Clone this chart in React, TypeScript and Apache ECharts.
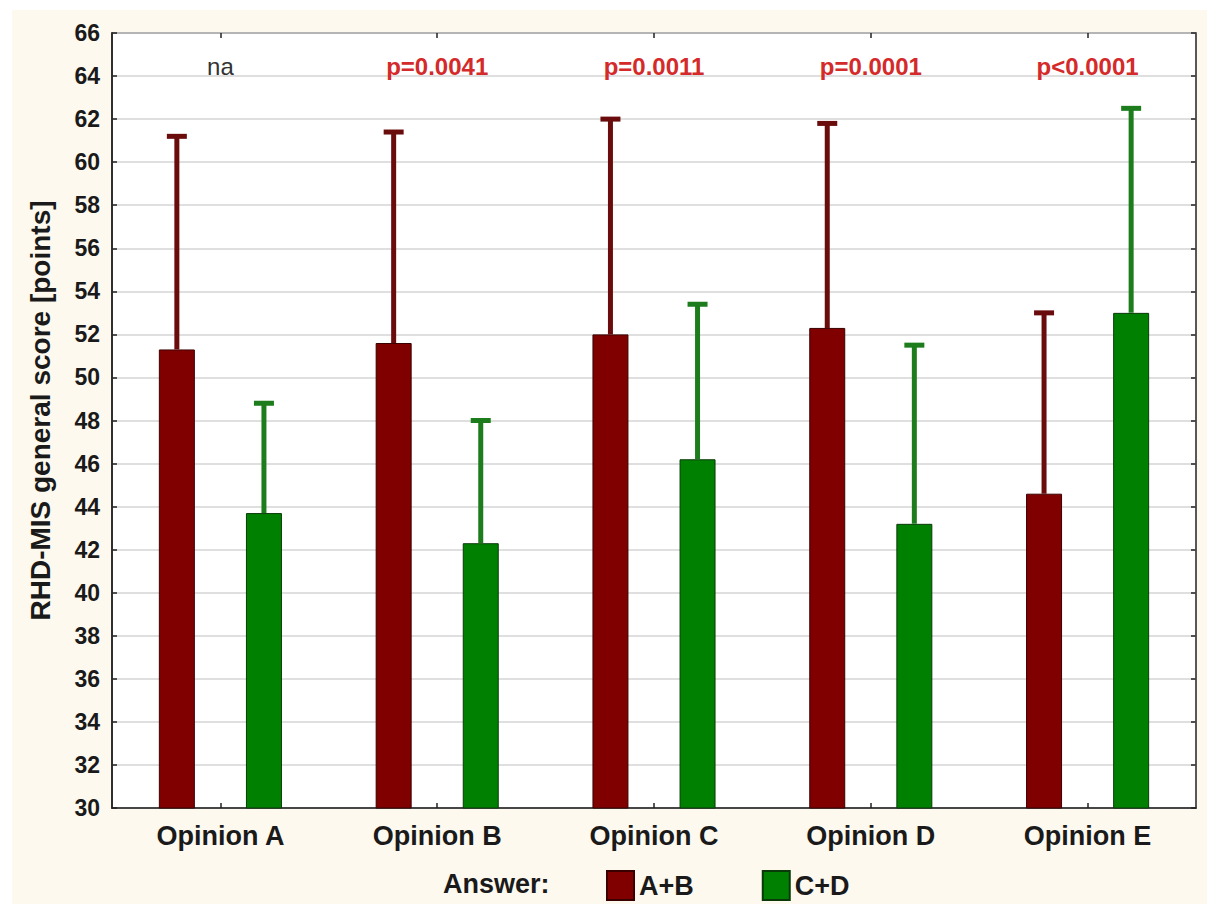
import React, { useEffect, useRef } from "react";
import * as echarts from "echarts";

const categories = ["Opinion A", "Opinion B", "Opinion C", "Opinion D", "Opinion E"];
const meanAB = [51.3, 51.6, 52.0, 52.3, 44.6];
const upperAB = [61.2, 61.4, 62.0, 61.8, 53.0];
const meanCD = [43.7, 42.3, 46.2, 43.2, 53.0];
const upperCD = [48.8, 48.0, 53.4, 51.5, 62.5];
const pLabels = ["na", "p=0.0041", "p=0.0011", "p=0.0001", "p<0.0001"];
const pLabelLevel = 64.45;
const yMin = 30;
const yMax = 66;
const yStep = 2;

const FONT = "'Liberation Sans', Arial, sans-serif";
const RED = "#800000";
const GREEN = "#008000";
const RED_ERR = "#6a0c0c";
const GREEN_ERR = "#1d7d1d";

const BAR_W = 0.166;
const BAR_GAP = 1.42;
const OFFSET = (BAR_W * (2 + BAR_GAP)) / 2 - BAR_W / 2;

function errorSeries(name: string, means: number[], uppers: number[], dir: number, color: string) {
  return {
    type: "custom",
    name: name + "-err",
    z: 5,
    silent: true,
    data: means.map((m, i) => [i, m, uppers[i]]),
    renderItem: (params: any, api: any) => {
      const i = api.value(0);
      const base = api.coord([i, api.value(1)]);
      const top = api.coord([i, api.value(2)]);
      const w = api.size([1, 0])[0];
      const x = base[0] + dir * OFFSET * w;
      return {
        type: "group",
        children: [
          {
            type: "line",
            shape: { x1: x, y1: base[1], x2: x, y2: top[1] },
            style: { stroke: color, lineWidth: 5 },
          },
          {
            type: "rect",
            shape: { x: x - 10, y: top[1] - 2.5, width: 20, height: 5 },
            style: { fill: color },
          },
        ],
      };
    },
  };
}

export default function App() {
  const ref = useRef<HTMLDivElement>(null);
  useEffect(() => {
    document.body.style.margin = "0";
    if (!ref.current) return;
    const chart = echarts.init(ref.current, null, { renderer: "svg" });
    const option: any = {
      animation: false,
      backgroundColor: "#ffffff",
      textStyle: { fontFamily: FONT },
      graphic: [
        {
          type: "rect",
          z: -10,
          shape: { x: 12, y: 10, width: 1195, height: 894 },
          style: { fill: "#fdf9ef" },
          silent: true,
        },
        {
          type: "text",
          left: 443,
          top: 870,
          style: {
            text: "Answer:",
            fill: "#1a1a1a",
            font: `bold 27px ${FONT}`,
          },
        },
      ],
      grid: {
        left: 112,
        top: 33,
        right: 11,
        bottom: 96,
        show: true,
        backgroundColor: "#ffffff",
        borderColor: "#222222",
        borderWidth: 1.5,
      },
      legend: {
        data: ["A+B", "C+D"],
        left: 606,
        top: 870,
        padding: 0,
        icon: "rect",
        itemWidth: 27,
        itemHeight: 29,
        itemGap: 68,
        textStyle: { fontSize: 27, lineHeight: 29, fontWeight: "bold", color: "#1a1a1a", fontFamily: FONT },
      },
      xAxis: [
        {
          type: "category",
          data: categories,
          axisLine: { show: true, lineStyle: { color: "#222", width: 1.5 } },
          axisTick: { show: true, inside: true, alignWithLabel: true, length: 5, lineStyle: { color: "#222", width: 1.5 } },
          axisLabel: { fontSize: 27, fontWeight: "bold", color: "#1a1a1a", margin: 14, fontFamily: FONT },
          splitLine: { show: false },
        },
        {
          type: "category",
          data: categories,
          position: "top",
          axisLine: { show: false },
          axisTick: { show: true, inside: true, alignWithLabel: true, length: 5, lineStyle: { color: "#222", width: 1.5 } },
          axisLabel: { show: false },
        },
      ],
      yAxis: [
        {
          type: "value",
          min: yMin,
          max: yMax,
          interval: yStep,
          name: "RHD-MIS general score [points]",
          nameLocation: "middle",
          nameRotate: 90,
          nameGap: 58,
          nameTextStyle: { fontSize: 28, fontWeight: "bold", color: "#1a1a1a", fontFamily: FONT, padding: [0, 0, 0, 20] },
          axisLine: { show: true, lineStyle: { color: "#222", width: 1.5 } },
          axisTick: { show: true, inside: true, length: 5, lineStyle: { color: "#222", width: 1.5 } },
          axisLabel: { fontSize: 23, fontWeight: "bold", color: "#1a1a1a", margin: 12, fontFamily: FONT },
          splitLine: { show: true, lineStyle: { color: "#d4d4d4", width: 1.5 } },
        },
        {
          type: "value",
          min: yMin,
          max: yMax,
          interval: yStep,
          position: "right",
          axisLine: { show: false },
          axisTick: { show: true, inside: true, length: 5, lineStyle: { color: "#222", width: 1.5 } },
          axisLabel: { show: false },
          splitLine: { show: false },
        },
      ],
      series: [
        {
          type: "bar",
          name: "A+B",
          data: meanAB,
          barWidth: BAR_W * 100 + "%",
          barGap: BAR_GAP * 100 + "%",
          itemStyle: { color: RED, borderColor: "#3a0000", borderWidth: 1 },
          z: 3,
        },
        {
          type: "bar",
          name: "C+D",
          data: meanCD,
          barWidth: BAR_W * 100 + "%",
          barGap: BAR_GAP * 100 + "%",
          itemStyle: { color: GREEN, borderColor: "#0a3a0a", borderWidth: 1 },
          z: 3,
        },
        errorSeries("A+B", meanAB, upperAB, -1, RED_ERR),
        errorSeries("C+D", meanCD, upperCD, 1, GREEN_ERR),
        {
          type: "custom",
          name: "p-values",
          z: 6,
          silent: true,
          data: pLabels.map((_, i) => [i, pLabelLevel]),
          renderItem: (params: any, api: any) => {
            const idx = params.dataIndex;
            const p = api.coord([api.value(0), api.value(1)]);
            const isNa = pLabels[idx] === "na";
            return {
              type: "text",
              x: p[0],
              y: p[1],
              style: {
                text: pLabels[idx],
                textAlign: "center",
                textVerticalAlign: "middle",
                fill: isNa ? "#333333" : "#d42a2a",
                font: `${isNa ? "normal" : "bold"} 24px ${FONT}`,
              },
            };
          },
        },
      ],
    };
    chart.setOption(option);
    return () => chart.dispose();
  }, []);
  return <div ref={ref} style={{ width: 1207, height: 904 }} />;
}
